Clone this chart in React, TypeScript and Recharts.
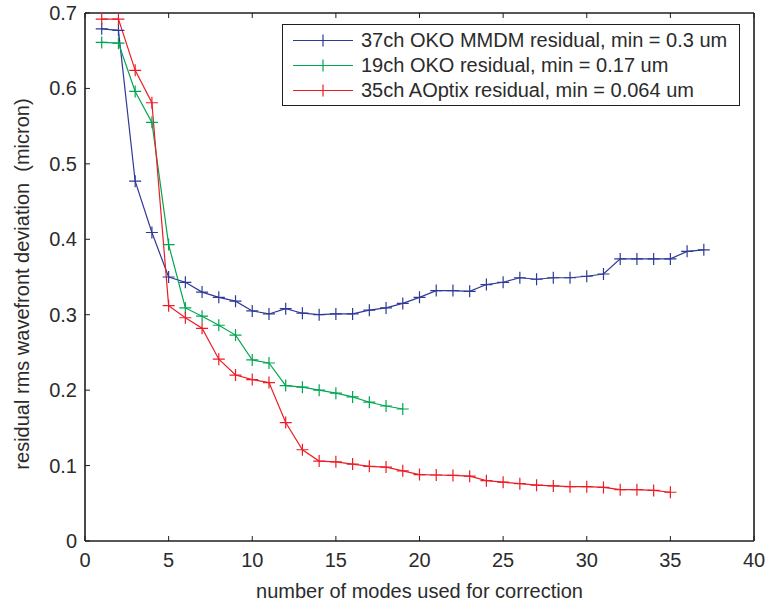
import React from "react";
import { LineChart, Line, XAxis, YAxis } from "recharts";

const MODES = [
  1, 2, 3, 4, 5, 6, 7, 8, 9, 10, 11, 12, 13, 14, 15, 16, 17, 18, 19, 20,
  21, 22, 23, 24, 25, 26, 27, 28, 29, 30, 31, 32, 33, 34, 35, 36, 37,
];

const OKO37 = [
  0.679, 0.677, 0.477, 0.409, 0.35, 0.343, 0.33, 0.323, 0.318, 0.305, 0.301,
  0.308, 0.302, 0.3, 0.301, 0.301, 0.306, 0.309, 0.315, 0.323, 0.332, 0.332,
  0.331, 0.34, 0.343, 0.349, 0.347, 0.349, 0.349, 0.351, 0.354, 0.374, 0.374,
  0.374, 0.374, 0.384, 0.386,
];

const OKO19 = [
  0.661, 0.66, 0.596, 0.555, 0.393, 0.309, 0.298, 0.286, 0.273, 0.24, 0.236,
  0.206, 0.204, 0.2, 0.196, 0.191, 0.184, 0.179, 0.175,
];

const AOPTIX35 = [
  0.692, 0.692, 0.624, 0.581, 0.312, 0.296, 0.282, 0.241, 0.22, 0.214, 0.21,
  0.157, 0.121, 0.106, 0.105, 0.102, 0.099, 0.098, 0.093, 0.088, 0.0875, 0.087,
  0.086, 0.08, 0.078, 0.076, 0.074, 0.073, 0.072, 0.072, 0.071, 0.068, 0.068,
  0.067, 0.0646,
];

const X_TICKS = [0, 5, 10, 15, 20, 25, 30, 35, 40];
const Y_TICKS = [0, 0.1, 0.2, 0.3, 0.4, 0.5, 0.6, 0.7];

const SERIES = [
  { key: "oko37", name: "37ch OKO MMDM residual, min = 0.3 um", color: "#2e3a96" },
  { key: "oko19", name: "19ch OKO residual, min = 0.17 um", color: "#00a651" },
  { key: "aoptix35", name: "35ch AOptix residual, min = 0.064 um", color: "#ed1c24" },
];

const data = MODES.map((m, i) => ({
  mode: m,
  oko37: OKO37[i],
  oko19: OKO19[i],
  aoptix35: AOPTIX35[i],
}));

const FONT = "'Liberation Sans', Arial, Helvetica, sans-serif";
const TEXT = "#2b2b2b";
const AXIS = "#1e1e1e";
const TICK_LEN = 5;

function plusDot(color: string) {
  return (props: any) => {
    const { cx, cy, index } = props;
    if (cx == null || cy == null || props.value == null) return <g key={index} />;
    return (
      <path
        key={index}
        d={`M${cx - 6},${cy}H${cx + 6}M${cx},${cy - 6}V${cy + 6}`}
        stroke={color}
        strokeWidth={1.2}
        fill="none"
      />
    );
  };
}

const BottomTick = (props: any) => {
  const { x, y, payload } = props;
  return (
    <g>
      <line x1={x} y1={y} x2={x} y2={y - TICK_LEN} stroke={AXIS} strokeWidth={1} />
      <text x={x} y={y + 26} textAnchor="middle" fontSize={20} fill={TEXT} fontFamily={FONT}>
        {payload.value}
      </text>
    </g>
  );
};

const TopTick = (props: any) => {
  const { x, y } = props;
  return <line x1={x} y1={y} x2={x} y2={y + TICK_LEN} stroke={AXIS} strokeWidth={1} />;
};

const LeftTick = (props: any) => {
  const { x, y, payload } = props;
  return (
    <g>
      <line x1={x} y1={y} x2={x + TICK_LEN} y2={y} stroke={AXIS} strokeWidth={1} />
      <text x={x - 8} y={y + 7} textAnchor="end" fontSize={20} fill={TEXT} fontFamily={FONT}>
        {String(payload.value)}
      </text>
    </g>
  );
};

const RightTick = (props: any) => {
  const { x, y } = props;
  return <line x1={x} y1={y} x2={x - TICK_LEN} y2={y} stroke={AXIS} strokeWidth={1} />;
};

// ignores the props Label passes in and sits where the original title sits
const YTitle = () => (
  <text
    x={29}
    y={284}
    transform="rotate(-90 29 284)"
    textAnchor="middle"
    fontSize={20}
    fill={TEXT}
    fontFamily={FONT}
    style={{ whiteSpace: "pre" }}
  >
    {"residual rms wavefront deviation  (micron)"}
  </text>
);

const LegendBox = () => (
  <div
    style={{
      position: "absolute",
      left: 282,
      top: 24,
      width: 458,
      height: 82,
      border: `1.5px solid ${AXIS}`,
      background: "#fff",
      boxSizing: "border-box",
      paddingTop: 3,
      fontFamily: FONT,
      fontSize: 20,
      color: TEXT,
    }}
  >
    {SERIES.map((s) => (
      <div key={s.key} style={{ display: "flex", alignItems: "center", height: 25 }}>
        <svg width={78} height={25} style={{ display: "block" }}>
          <line x1={10} y1={12.5} x2={70} y2={12.5} stroke={s.color} strokeWidth={1.2} />
          <path d="M34,12.5H46M40,6.5V18.5" stroke={s.color} strokeWidth={1.2} />
        </svg>
        <span style={{ whiteSpace: "pre", lineHeight: "25px" }}>{s.name}</span>
      </div>
    ))}
  </div>
);

export default function App() {
  return (
    <div style={{ position: "absolute", left: 0, top: 0, width: 766, height: 604, background: "#fff" }}>
      <LineChart width={766} height={604} data={data} margin={{ top: 0, right: 0, bottom: 0, left: 0 }}>
        <XAxis
          dataKey="mode"
          type="number"
          domain={[0, 40]}
          ticks={X_TICKS}
          height={63}
          tickSize={0}
          tickMargin={0}
          tick={<BottomTick />}
          axisLine={{ stroke: AXIS, strokeWidth: 1.6 }}
          label={{
            value: "number of modes used for correction",
            position: "insideBottom",
            offset: 6,
            fontSize: 20,
            fill: TEXT,
            fontFamily: FONT,
          }}
        />
        <XAxis
          xAxisId="top"
          orientation="top"
          dataKey="mode"
          type="number"
          domain={[0, 40]}
          ticks={X_TICKS}
          height={13}
          tickSize={0}
          tickMargin={0}
          tick={<TopTick />}
          axisLine={{ stroke: AXIS, strokeWidth: 1.6 }}
        />
        <YAxis
          type="number"
          domain={[0, 0.7]}
          ticks={Y_TICKS}
          width={85}
          tickSize={0}
          tickMargin={0}
          tick={<LeftTick />}
          axisLine={{ stroke: AXIS, strokeWidth: 1.6 }}
          label={<YTitle />}
        />
        <YAxis
          yAxisId="right"
          orientation="right"
          type="number"
          domain={[0, 0.7]}
          ticks={Y_TICKS}
          width={12}
          tickSize={0}
          tickMargin={0}
          tick={<RightTick />}
          axisLine={{ stroke: AXIS, strokeWidth: 1.6 }}
        />
        {SERIES.map((s) => (
          <Line
            key={s.key}
            dataKey={s.key}
            name={s.name}
            stroke={s.color}
            strokeWidth={1.2}
            dot={plusDot(s.color)}
            activeDot={false}
            connectNulls={false}
            isAnimationActive={false}
          />
        ))}
      </LineChart>
      <LegendBox />
    </div>
  );
}
